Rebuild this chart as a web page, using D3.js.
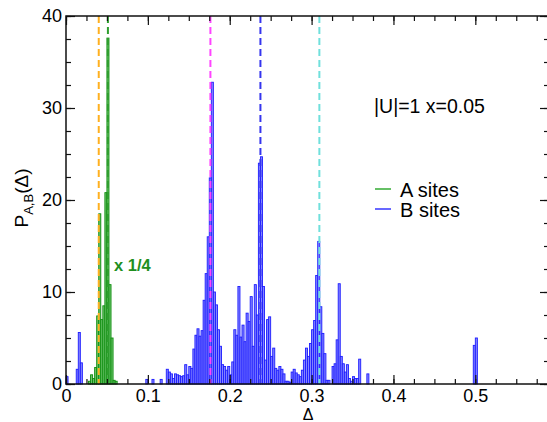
<!DOCTYPE html>
<html>
<head>
<meta charset="utf-8">
<script src="https://cdn.jsdelivr.net/npm/d3@7"></script>
<style>
  body { margin: 0; background: #fff; }
  svg { display: block; }
  text { font-family: "Liberation Sans", Arial, Helvetica, sans-serif; }
</style>
</head>
<body>
<div id="chart"></div>
<script>
"use strict";

// == DATA ==
var binWidth = 0.0025;

// B sites, bins from delta = 0
var blueStart = 0;
var blueHist = [
  0.8, 0, 0, 0, 0, 1.6, 5.6, 2.3, 0, 0,
  0, 0, 0, 0, 0, 0, 0, 0, 0, 0,
  0, 0, 0, 0, 0, 0, 0, 0, 0, 0,
  0, 0, 0, 0, 0, 0, 0, 0, 0, 0.5,
  0, 0, 0.5, 0, 0, 0, 0.5, 0, 0, 1.6,
  1.3, 1.1, 0.6, 1.1, 1.0, 0.9, 0.8, 0.9, 2.1, 1.0,
  1.9, 1.7, 3.8, 5.3, 6.0, 5.2, 5.8, 9.1, 12.0, 16.0,
  22.4, 32.8, 10.0, 8.6, 5.9, 4.1, 2.1, 1.9, 1.5, 1.9,
  1.0, 2.4, 5.9, 5.3, 10.6, 5.1, 6.4, 4.6, 7.7, 6.8,
  9.5, 4.1, 10.8, 7.5, 24.0, 24.7, 10.6, 2.6, 7.0, 7.3,
  3.0, 3.9, 1.7, 1.5, 1.9, 1.6, 1.1, 0.3, 0.3, 0.2,
  1.3, 1.6, 1.2, 1.0, 0.8, 1.5, 2.6, 3.9, 3.0, 4.4,
  5.9, 6.9, 11.8, 15.5, 8.4, 5.5, 3.3, 0.4, 0.4, 0,
  1.9, 2.2, 4.8, 10.9, 3.0, 2.2, 1.3, 2.1, 0.6, 0.3,
  0.8, 0.6, 0.6, 2.7, 0, 0, 0, 1.1
];
// B sites, isolated spike near 0.5
var blueSpikeStart = 0.4975;
var blueSpike = [4.2, 5.0];

// A sites (already scaled x 1/4)
var greenStart = 0.0275;
var greenHist = [0.3, 1.0, 0.6, 1.8, 7.4, 18.5, 7.0, 8.5, 20.8, 37.6, 10.8, 5.0, 0.4, 0.3];

// dashed reference positions
var refValues = [0.0400, 0.0512, 0.1764, 0.2375, 0.3095];
var refColors = ["#ffb020", "#2e9e2e", "#ff44ff", "#3535ee", "#70e0dc"];

var xMajor = [0, 0.1, 0.2, 0.3, 0.4, 0.5];
var yMajor = [0, 10, 20, 30, 40];
var legendLabels = ["A sites", "B sites"];

// == BOILERPLATE ==
var W = 547, H = 422;
var margin = { left: 66, right: 549, top: 16, bottom: 384 };

var svg = d3.select("#chart").append("svg")
  .attr("width", W).attr("height", H);

var x = d3.scaleLinear().domain([0, 0.59]).range([margin.left, margin.right]);
var y = d3.scaleLinear().domain([0, 40]).range([margin.bottom, margin.top]);

function toBins(start, values) {
  return values.map(function (v, i) {
    return { x0: start + i * binWidth, x1: start + (i + 1) * binWidth, v: v };
  }).filter(function (d) { return d.v > 0; });
}

var blueBins = toBins(blueStart, blueHist).concat(toBins(blueSpikeStart, blueSpike));
var greenBins = toBins(greenStart, greenHist);

var plot = svg.append("g");

plot.selectAll("rect.blue")
  .data(blueBins)
  .enter().append("rect")
  .attr("class", "blue")
  .attr("x", function (d) { return x(d.x0); })
  .attr("width", function (d) { return x(d.x1) - x(d.x0); })
  .attr("y", function (d) { return y(d.v); })
  .attr("height", function (d) { return y(0) - y(d.v); })
  .attr("fill", "#8585ff")
  .attr("stroke", "#1c1cff")
  .attr("stroke-width", 0.9);

plot.selectAll("rect.green")
  .data(greenBins)
  .enter().append("rect")
  .attr("class", "green")
  .attr("x", function (d) { return x(d.x0); })
  .attr("width", function (d) { return x(d.x1) - x(d.x0); })
  .attr("y", function (d) { return y(d.v); })
  .attr("height", function (d) { return y(0) - y(d.v); })
  .attr("fill", "#6cc46c")
  .attr("stroke", "#0c8c0c")
  .attr("stroke-width", 0.9);

// dashed lines
plot.selectAll("line.ref")
  .data(refValues)
  .enter().append("line")
  .attr("class", "ref")
  .attr("x1", function (d) { return x(d); })
  .attr("x2", function (d) { return x(d); })
  .attr("y1", y(40))
  .attr("y2", y(0))
  .attr("stroke", function (d, i) { return refColors[i]; })
  .attr("stroke-width", 2)
  .attr("stroke-dasharray", "7,4");

// == AXES ==
var xMinor = d3.range(0, 0.59, 0.025);
var yMinor = d3.range(0, 40.01, 2.5);
var fmtX = function (d) { return d === 0 ? "0" : d3.format(".1f")(d); };

function styleAxis(g) {
  g.select(".domain").remove();
  g.selectAll(".tick line").attr("stroke", "#111").attr("stroke-width", 1.2);
  g.selectAll("text").attr("font-size", "18px").attr("fill", "#000")
    .style("font-family", "'Liberation Sans', Arial, sans-serif");
}

svg.append("g").attr("transform", "translate(0," + margin.bottom + ")")
  .call(d3.axisBottom(x).tickValues(xMinor).tickSizeInner(-5).tickSizeOuter(0).tickFormat(""))
  .call(styleAxis);
svg.append("g").attr("transform", "translate(0," + margin.bottom + ")")
  .call(d3.axisBottom(x).tickValues(xMajor).tickSizeInner(-9).tickSizeOuter(0).tickPadding(5).tickFormat(fmtX))
  .call(styleAxis);
svg.append("g").attr("transform", "translate(0," + margin.top + ")")
  .call(d3.axisTop(x).tickValues(xMinor).tickSizeInner(-5).tickSizeOuter(0).tickFormat(""))
  .call(styleAxis);
svg.append("g").attr("transform", "translate(0," + margin.top + ")")
  .call(d3.axisTop(x).tickValues(xMajor).tickSizeInner(-9).tickSizeOuter(0).tickFormat(""))
  .call(styleAxis);

svg.append("g").attr("transform", "translate(" + margin.left + ",0)")
  .call(d3.axisLeft(y).tickValues(yMinor).tickSizeInner(-5).tickSizeOuter(0).tickFormat(""))
  .call(styleAxis);
svg.append("g").attr("transform", "translate(" + margin.left + ",0)")
  .call(d3.axisLeft(y).tickValues(yMajor).tickSizeInner(-9).tickSizeOuter(0).tickPadding(4).tickFormat(d3.format("d")))
  .call(styleAxis);
svg.append("g").attr("transform", "translate(" + margin.right + ",0)")
  .call(d3.axisRight(y).tickValues(yMinor).tickSizeInner(-5).tickSizeOuter(0).tickFormat(""))
  .call(styleAxis);
svg.append("g").attr("transform", "translate(" + margin.right + ",0)")
  .call(d3.axisRight(y).tickValues(yMajor).tickSizeInner(-9).tickSizeOuter(0).tickFormat(""))
  .call(styleAxis);

// frame
svg.append("rect")
  .attr("x", margin.left).attr("y", margin.top)
  .attr("width", margin.right - margin.left).attr("height", margin.bottom - margin.top)
  .attr("fill", "none").attr("stroke", "#111").attr("stroke-width", 1.5);

// axis labels
svg.append("text")
  .attr("x", 308).attr("y", 420)
  .attr("text-anchor", "middle")
  .attr("font-size", "16px")
  .text("\u0394");

var yl = svg.append("text")
  .attr("transform", "translate(28,198) rotate(-90)")
  .attr("text-anchor", "middle")
  .attr("font-size", "19px");
yl.append("tspan").text("P");
yl.append("tspan").attr("font-size", "13px").attr("dy", "5").text("A,B");
yl.append("tspan").attr("dy", "-5").text("(\u0394)");

// annotations
svg.append("text")
  .attr("x", 374).attr("y", 113)
  .attr("font-size", "19.5px")
  .text("|U|=1 x=0.05");

svg.append("text")
  .attr("x", 114).attr("y", 271)
  .attr("font-size", "16.5px")
  .attr("font-weight", "bold")
  .attr("fill", "#1f8f1f")
  .text("x 1/4");

// legend
var legendColors = ["#66c066", "#6868ff"];
var leg = svg.append("g");
legendLabels.forEach(function (lab, i) {
  var ly = 189 + i * 20;
  leg.append("line")
    .attr("x1", 375).attr("x2", 391)
    .attr("y1", ly).attr("y2", ly)
    .attr("stroke", legendColors[i]).attr("stroke-width", 2);
  leg.append("text")
    .attr("x", 400).attr("y", ly + 7.5)
    .attr("font-size", "20px")
    .text(lab);
});
</script>
</body>
</html>
